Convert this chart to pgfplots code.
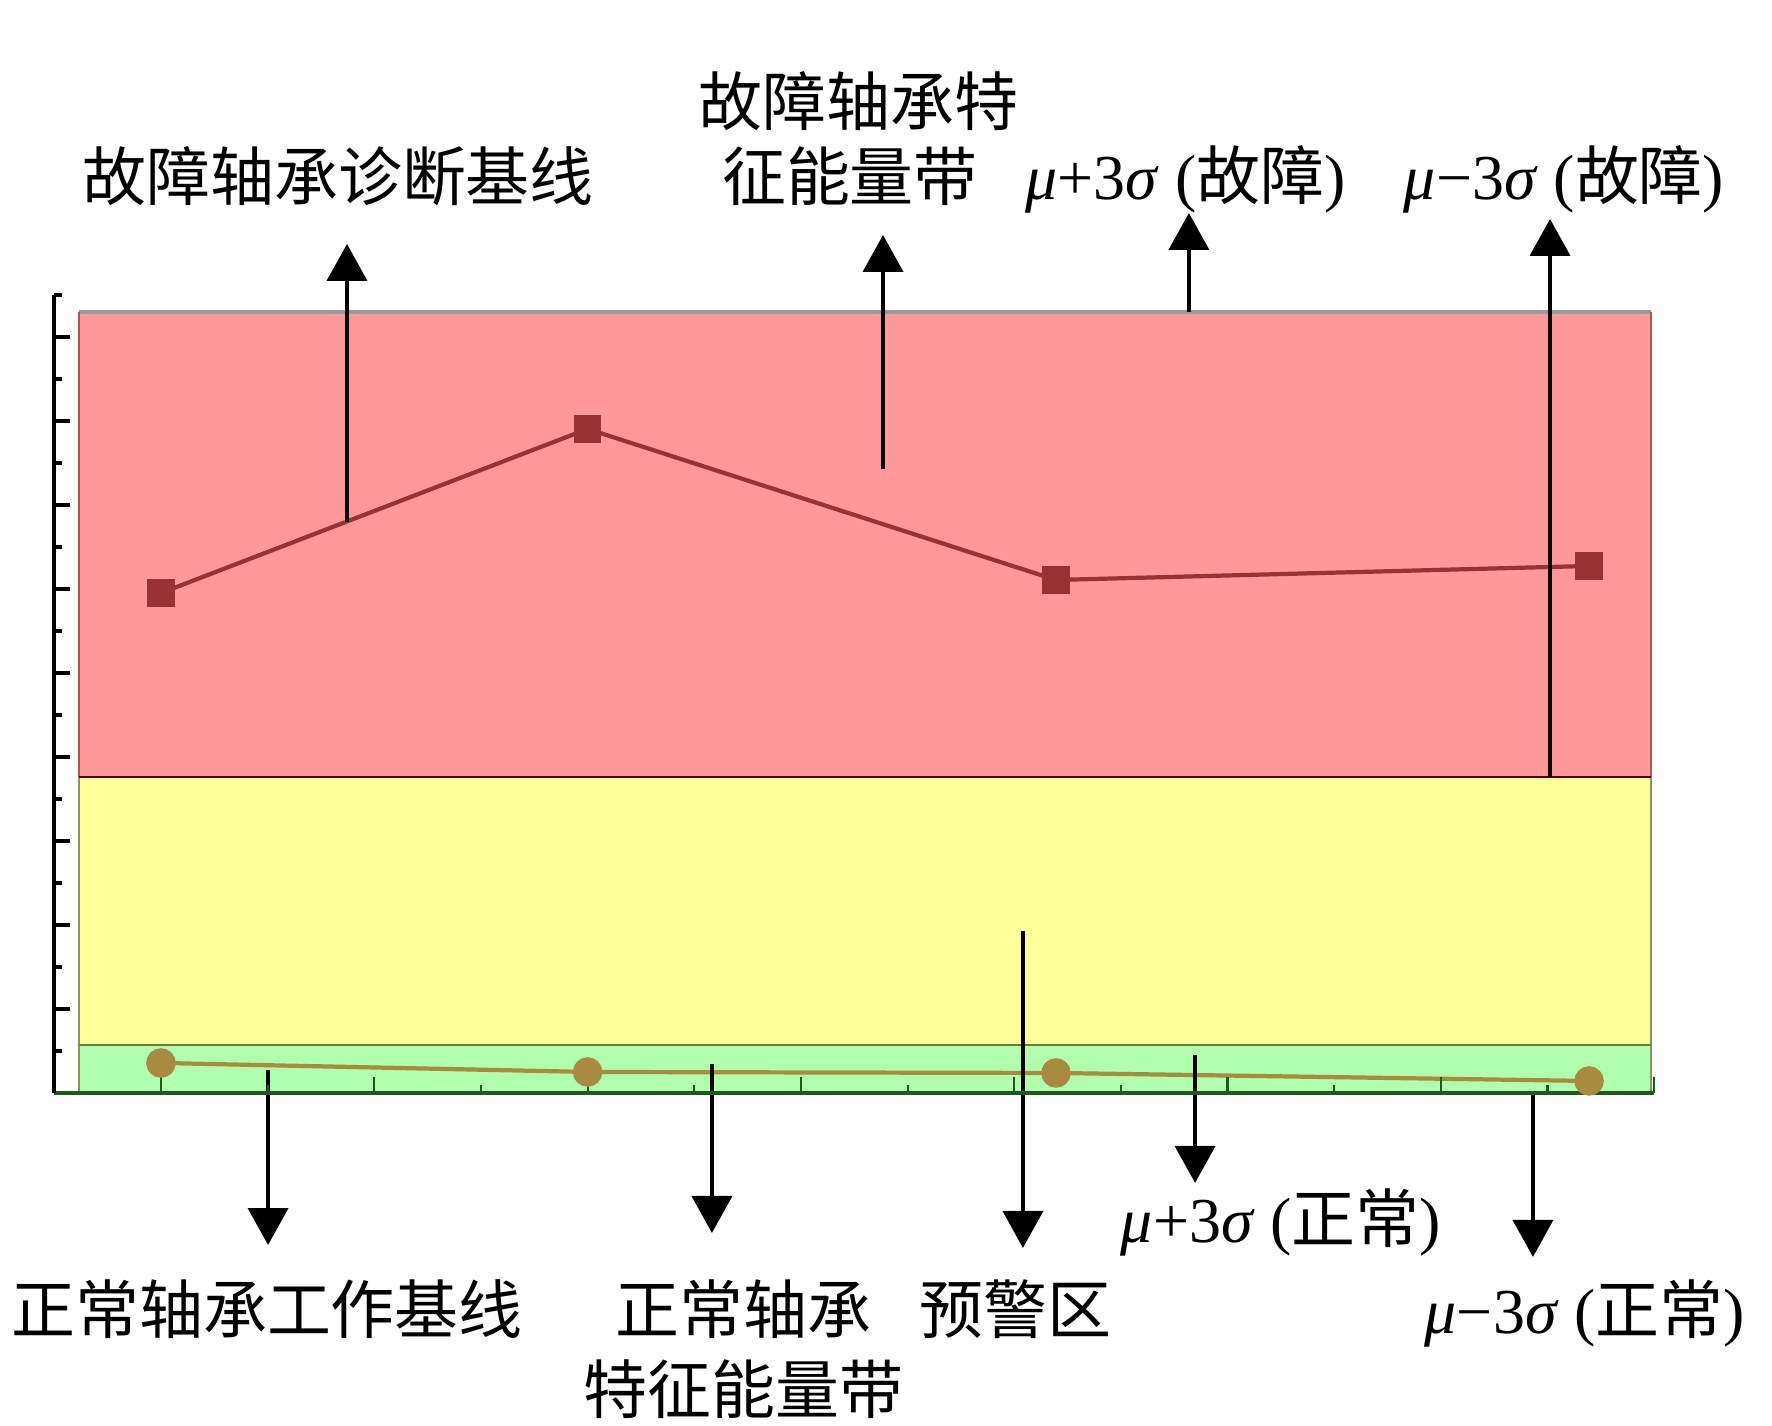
\documentclass[border=0pt]{standalone}
\usepackage{pgfplots}
\pgfplotsset{compat=1.18}
\usetikzlibrary{arrows.meta}
\usepackage{fontspec}
\setmainfont{Liberation Serif}
\newfontfamily\cjk{Noto Sans CJK SC}
\newcommand\lf{\fontsize{18.2pt}{22pt}\selectfont}
\newcommand\cf{\cjk\fontsize{18.2pt}{22pt}\selectfont}
\definecolor{bandred}{HTML}{FF9999}
\definecolor{bandyel}{HTML}{FFFF99}
\definecolor{bandgrn}{HTML}{AFFFAF}
\definecolor{linered}{HTML}{993333}
\definecolor{linegold}{HTML}{A88A40}
\definecolor{axgreen}{HTML}{1E5A1E}
\definecolor{olive}{HTML}{6B7B3A}
\begin{document}
\begin{tikzpicture}[arr/.style={line width=1.1pt, -{Triangle[width=0.40cm,length=0.37cm]}}]
\begin{axis}[
  x=2.133cm, y=0.84cm,
  xmin=-0.5, xmax=7, ymin=0, ymax=9.5,
  axis x line=bottom, axis y line=left,
  axis line style={-},
  x axis line style={draw=axgreen, line width=0.9pt},
  y axis line style={draw=black, line width=1.1pt},
  xtick={0,...,7}, minor xtick={-0.5,0.5,...,6.5},
  ytick={0,...,9}, minor ytick={0.5,1.5,...,9.5},
  xticklabels={}, yticklabels={},
  tick align=inside,
  major tick length=0.16cm, minor tick length=0.08cm,
  x tick style={draw=axgreen, line width=0.6pt},
  y tick style={draw=black, line width=1.1pt},
  axis on top,
  clip=false,
]
% bands
\addplot[draw=none, fill=bandgrn] coordinates {(-0.384,0) (6.985,0) (6.985,0.571) (-0.384,0.571) (-0.384,0)};
\addplot[draw=none, fill=bandyel] coordinates {(-0.384,0.571) (6.985,0.571) (6.985,3.762) (-0.384,3.762) (-0.384,0.571)};
\addplot[draw=none, fill=bandred] coordinates {(-0.384,3.762) (6.985,3.762) (6.985,9.298) (-0.384,9.298) (-0.384,3.762)};
% band borders
\addplot[color=black!40, line width=0.9pt] coordinates {(-0.384,9.298) (6.985,9.298)};
\addplot[color=red!30!gray, line width=0.7pt] coordinates {(-0.384,3.762) (-0.384,9.298)};
\addplot[color=red!30!gray, line width=0.7pt] coordinates {(6.985,3.762) (6.985,9.298)};
\addplot[color=olive!80, line width=0.7pt] coordinates {(-0.384,0) (-0.384,3.762)};
\addplot[color=olive!80, line width=0.7pt] coordinates {(6.985,0) (6.985,3.762)};
\addplot[color=black!70!red, line width=0.8pt] coordinates {(-0.384,3.762) (6.985,3.762)};
\addplot[color=olive, line width=0.8pt] coordinates {(-0.384,0.571) (6.985,0.571)};
% data lines
\addplot[color=linered, line width=1.2pt, mark=square*, mark size=3.3pt, mark options={solid, fill=linered}]
  coordinates {(0,5.952) (2,7.905) (4.196,6.107) (6.695,6.274)};
\addplot[color=linegold, line width=1.2pt, mark=*, mark size=3.6pt, mark options={solid, fill=linegold}]
  coordinates {(0,0.357) (2,0.25) (4.196,0.238) (6.695,0.143)};
% arrows up
\draw[arr] (axis cs:0.872,6.80) -- (axis cs:0.872,10.107);
\draw[arr] (axis cs:3.385,7.429) -- (axis cs:3.385,10.214);
\draw[arr] (axis cs:4.819,9.298) -- (axis cs:4.819,10.476);
\draw[arr] (axis cs:6.512,3.762) -- (axis cs:6.512,10.405);
% arrows down
\draw[arr] (axis cs:0.502,0.274) -- (axis cs:0.502,-1.810);
\draw[arr] (axis cs:2.583,0.345) -- (axis cs:2.583,-1.667);
\draw[arr] (axis cs:4.041,1.929) -- (axis cs:4.041,-1.845);
\draw[arr] (axis cs:4.848,0.450) -- (axis cs:4.848,-1.071);
\draw[arr] (axis cs:6.432,0.024) -- (axis cs:6.432,-1.952);
% labels top
\node[anchor=base] at (axis cs:0.830,10.619) {\cf 故障轴承诊断基线};
\node[anchor=base] at (axis cs:3.268,11.512) {\cf 故障轴承特};
\node[anchor=base] at (axis cs:3.230,10.619) {\cf 征能量带};
\node[anchor=base] at (axis cs:4.805,10.631) {\lf\textit{μ}+3\textit{σ} ({\cjk 故障})};
\node[anchor=base] at (axis cs:6.578,10.631) {\lf\textit{μ}−3\textit{σ} ({\cjk 故障})};
% labels bottom
\node[anchor=base] at (axis cs:0.497,-2.869) {\cf 正常轴承工作基线};
\node[anchor=base] at (axis cs:2.729,-2.869) {\cf 正常轴承};
\node[anchor=base] at (axis cs:2.729,-3.810) {\cf 特征能量带};
\node[anchor=base] at (axis cs:4.004,-2.869) {\cf 预警区};
\node[anchor=base] at (axis cs:5.251,-1.786) {\lf\textit{μ}+3\textit{σ} ({\cjk 正常})};
\node[anchor=base] at (axis cs:6.676,-2.869) {\lf\textit{μ}−3\textit{σ} ({\cjk 正常})};
\coordinate (BL) at (axis cs:-0.7548,-3.9643);
\coordinate (TR) at (axis cs:7.5527,13.0119);
\end{axis}
\pgfresetboundingbox
\path (BL) rectangle (TR);
\end{tikzpicture}
\end{document}
